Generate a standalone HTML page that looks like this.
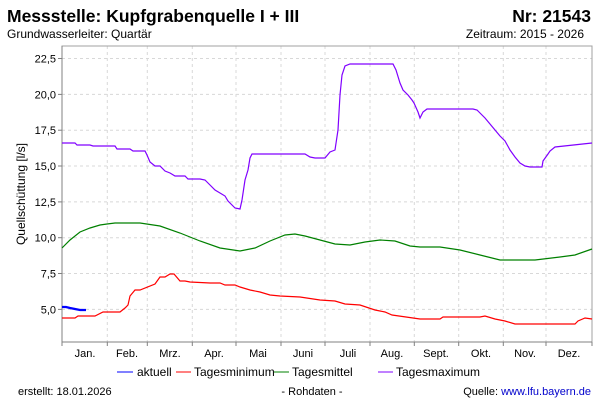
<!DOCTYPE html>
<html><head><meta charset="utf-8"><style>
body{margin:0;background:#fff;}
svg{display:block;font-family:"Liberation Sans",Arial,sans-serif;}
</style></head><body>
<svg width="600" height="400" viewBox="0 0 600 400">
<rect width="600" height="400" fill="#fff"/>
<text x="7" y="22" font-size="17.5" font-weight="bold" fill="#000">Messstelle: Kupfgrabenquelle I + III</text>
<text x="591" y="22" font-size="17.5" font-weight="bold" fill="#000" text-anchor="end">Nr: 21543</text>
<text x="7" y="38" font-size="12" fill="#000">Grundwasserleiter: Quartär</text>
<text x="584" y="38" font-size="12" fill="#000" text-anchor="end">Zeitraum: 2015 - 2026</text>
<g stroke="#d8d8d8" stroke-dasharray="3,3" stroke-width="1">
<line x1="62" x2="592" y1="58.5" y2="58.5"/><line x1="62" x2="592" y1="94.4" y2="94.4"/>
<line x1="62" x2="592" y1="130.2" y2="130.2"/><line x1="62" x2="592" y1="166" y2="166"/>
<line x1="62" x2="592" y1="201.9" y2="201.9"/><line x1="62" x2="592" y1="237.7" y2="237.7"/>
<line x1="62" x2="592" y1="273.5" y2="273.5"/><line x1="62" x2="592" y1="309.4" y2="309.4"/>
<line x1="107.3" x2="107.3" y1="46" y2="342"/><line x1="147.3" x2="147.3" y1="46" y2="342"/>
<line x1="192.3" x2="192.3" y1="46" y2="342"/><line x1="236" x2="236" y1="46" y2="342"/>
<line x1="281" x2="281" y1="46" y2="342"/><line x1="325" x2="325" y1="46" y2="342"/>
<line x1="370" x2="370" y1="46" y2="342"/><line x1="414.3" x2="414.3" y1="46" y2="342"/>
<line x1="458.7" x2="458.7" y1="46" y2="342"/><line x1="503.3" x2="503.3" y1="46" y2="342"/>
<line x1="546" x2="546" y1="46" y2="342"/>
</g>
<rect x="62" y="46" width="530" height="296" fill="none" stroke="#a0a0a0"/>
<line x1="62" x2="62" y1="46" y2="342" stroke="#808080"/>
<line x1="62" x2="592" y1="342" y2="342" stroke="#808080"/>
<g stroke="#808080">
<line x1="62" x2="62" y1="342" y2="346"/><line x1="107.3" x2="107.3" y1="342" y2="346"/><line x1="147.3" x2="147.3" y1="342" y2="346"/><line x1="192.3" x2="192.3" y1="342" y2="346"/><line x1="236" x2="236" y1="342" y2="346"/><line x1="281" x2="281" y1="342" y2="346"/><line x1="325" x2="325" y1="342" y2="346"/><line x1="370" x2="370" y1="342" y2="346"/><line x1="414.3" x2="414.3" y1="342" y2="346"/><line x1="458.7" x2="458.7" y1="342" y2="346"/><line x1="503.3" x2="503.3" y1="342" y2="346"/><line x1="546" x2="546" y1="342" y2="346"/><line x1="592" x2="592" y1="342" y2="346"/>
<line x1="58" x2="62" y1="58.5" y2="58.5"/><line x1="58" x2="62" y1="94.4" y2="94.4"/><line x1="58" x2="62" y1="130.2" y2="130.2"/><line x1="58" x2="62" y1="166" y2="166"/><line x1="58" x2="62" y1="201.9" y2="201.9"/><line x1="58" x2="62" y1="237.7" y2="237.7"/><line x1="58" x2="62" y1="273.5" y2="273.5"/><line x1="58" x2="62" y1="309.4" y2="309.4"/>
</g>
<g font-size="11" fill="#000" text-anchor="end">
<text x="56" y="62.5">22,5</text><text x="56" y="98.4">20,0</text><text x="56" y="134.2">17,5</text><text x="56" y="170">15,0</text><text x="56" y="205.9">12,5</text><text x="56" y="241.7">10,0</text><text x="56" y="277.5">7,5</text><text x="56" y="313.4">5,0</text>
</g>
<g font-size="11" fill="#000" text-anchor="middle">
<text x="85" y="357">Jan.</text><text x="127" y="357">Feb.</text><text x="170" y="357">Mrz.</text><text x="214" y="357">Apr.</text><text x="258" y="357">Mai</text><text x="303" y="357">Juni</text><text x="348" y="357">Juli</text><text x="392" y="357">Aug.</text><text x="436" y="357">Sept.</text><text x="481" y="357">Okt.</text><text x="525" y="357">Nov.</text><text x="569" y="357">Dez.</text>
</g>
<text transform="translate(25,194) rotate(-90)" font-size="12" text-anchor="middle" fill="#000">Quellschüttung [l/s]</text>
<polyline fill="none" stroke="#8000ff" stroke-width="1.2" points="62,143 75,143 77,145 90,145 93,146 115,146 117,149 130,149 133,151 145,151 147,155 150,162 155,166 160,166 165,171 170,173 175,176 185,176 188,179 200,179 205,180 210,185 215,190 220,193 225,196 228,201 235,208 240,209 242,200 245,180 248,170 250,158 252,154 260,154 305,154 310,157 315,158 325,158 330,152 335,150 338,130 340,95 342,75 345,66 350,64 393,64 396,70 400,83 403,90 408,95 412,100 414,103 418,112 420,118 423,112 427,109 473,109 477,110 485,118 490,124 495,130 500,136 505,141 510,150 515,157 520,163 525,166 530,167 542,167 543,161 548,154 550,151 555,147 592,143"/>
<polyline fill="none" stroke="#008000" stroke-width="1.2" points="62,248 70,240 80,232 90,228 100,225 107,224 115,223 140,223 160,226 180,233 200,241 220,248 240,251 255,248 270,241 285,235 295,234 305,236 320,240 335,244 350,245 365,242 380,240 395,241 410,246 420,247 440,247 460,250 480,255 500,260 535,260 560,257 575,255 592,249"/>
<polyline fill="none" stroke="#ff0000" stroke-width="1.2" points="62,318 75,318 78,316 95,316 103,312 120,312 125,308 128,305 130,296 135,290 140,290 155,284 160,277 165,277 170,274 174,274 180,281 185,281 190,282 210,283 220,283 225,285 235,285 240,287 250,290 260,292 270,295 280,296 300,297 320,300 335,301 345,304 360,305 375,310 385,312 392,315 420,319 440,319 443,317 480,317 485,316 495,319 505,321 515,324 575,324 578,321 585,318 592,319"/>
<polyline fill="none" stroke="#0000ff" stroke-width="2.2" points="62,307 66,307 70,308 75,309 80,310 86,310"/>
<g font-size="12" fill="#000">
<line x1="117" x2="133" y1="372" y2="372" stroke="#0000ff"/><text x="137" y="376">aktuell</text>
<line x1="176" x2="191" y1="372" y2="372" stroke="#ff0000"/><text x="194" y="376">Tagesminimum</text>
<line x1="274" x2="289" y1="372" y2="372" stroke="#008000"/><text x="292" y="376">Tagesmittel</text>
<line x1="378" x2="393" y1="372" y2="372" stroke="#8000ff"/><text x="396" y="376">Tagesmaximum</text>
</g>
<g font-size="11" fill="#000">
<text x="18" y="395">erstellt:  18.01.2026</text>
<text x="312" y="395" text-anchor="middle">- Rohdaten -</text>
<text x="591" y="395" text-anchor="end">Quelle: <tspan fill="#0000cc">www.lfu.bayern.de</tspan></text>
</g>
</svg>
</body></html>
